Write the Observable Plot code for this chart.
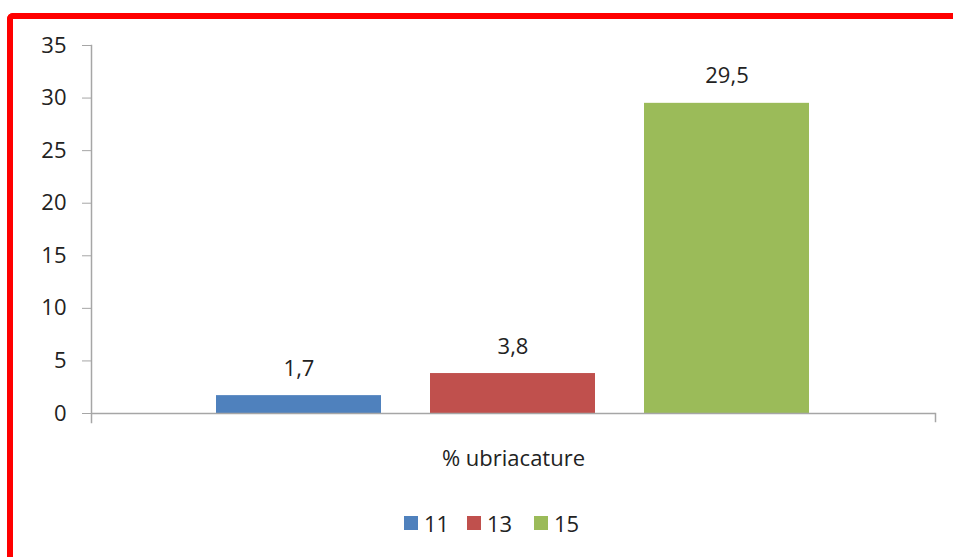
<!DOCTYPE html>
<html>
<head>
<meta charset="utf-8">
<script src="https://cdn.jsdelivr.net/npm/d3@7"></script>
<script src="https://cdn.jsdelivr.net/npm/@observablehq/plot@0.6"></script>
<style>
  html, body { margin: 0; padding: 0; background: #fff; }
  #wrap { position: relative; width: 953px; height: 557px; overflow: hidden; font-family: "Open Sans", Lato, sans-serif; }
  #frame { position: absolute; left: 7px; top: 13px; width: 1000px; height: 700px; border-left: 6px solid #ff0000; border-top: 6px solid #ff0000; border-top-left-radius: 6px; box-sizing: border-box; }
  #chart { position: absolute; left: 0; top: 0; }
  #legend { position: absolute; left: 0; top: 508px; width: 953px; font-size: 22px; color: #222; }
  .item { position: absolute; display: flex; align-items: center; }
  .sw { width: 14px; height: 14px; margin-right: 6px; }
</style>
</head>
<body>
<div id="wrap">
  <div id="frame"></div>
  <div id="chart"></div>
  <div id="legend"></div>
</div>
<script>
const series = ["11", "13", "15"];
const values = [1.7, 3.8, 29.5];
const valueLabels = ["1,7", "3,8", "29,5"];
const colors = ["#4F81BD", "#C0504D", "#9BBB59"];
const yTicks = [0, 5, 10, 15, 20, 25, 30, 35];
const categoryLabel = "% ubriacature";

const data = series.map((s, i) => ({series: s, value: values[i], label: valueLabels[i]}));
const axisGray = "#a6a6a6";

const chart = Plot.plot({
  width: 953,
  height: 490,
  marginLeft: 91,
  marginRight: 18,
  marginTop: 45,
  marginBottom: 77,
  style: {fontFamily: "'Open Sans', Lato, sans-serif", background: "transparent", color: "#222"},
  x: {domain: series, paddingInner: 0.228, paddingOuter: 0.577, axis: null},
  y: {domain: [0, 35]},
  color: {domain: series, range: colors},
  marks: [
    Plot.barY(data, {x: "series", y: "value", fill: "series"}),
    Plot.ruleY([0], {stroke: axisGray, strokeWidth: 1.5}),
    Plot.frame({anchor: "left", stroke: axisGray, strokeWidth: 1.5, insetBottom: -9}),
    Plot.frame({anchor: "right", stroke: axisGray, strokeWidth: 1.5, insetTop: 368, insetBottom: -8}),
    Plot.axisY({ticks: yTicks, tickSize: 9, tickPadding: 16, stroke: axisGray, fontSize: 22, label: null, fill: "#222"}),
    Plot.text(data, {x: "series", y: "value", text: "label", dy: -27, lineAnchor: "middle", fontSize: 22, fill: "#222"}),
    Plot.text([categoryLabel], {frameAnchor: "bottom", dy: 45, lineAnchor: "middle", fontSize: 22, fill: "#222"})
  ]
});
document.getElementById("chart").appendChild(chart);

const legend = document.getElementById("legend");
const lefts = [404, 467, 534];
series.forEach((s, i) => {
  const it = document.createElement("div");
  it.className = "item";
  it.style.left = lefts[i] + "px";
  const sw = document.createElement("div");
  sw.className = "sw";
  sw.style.background = colors[i];
  const t = document.createElement("span");
  t.textContent = s;
  it.appendChild(sw);
  it.appendChild(t);
  legend.appendChild(it);
});
</script>
</body>
</html>
